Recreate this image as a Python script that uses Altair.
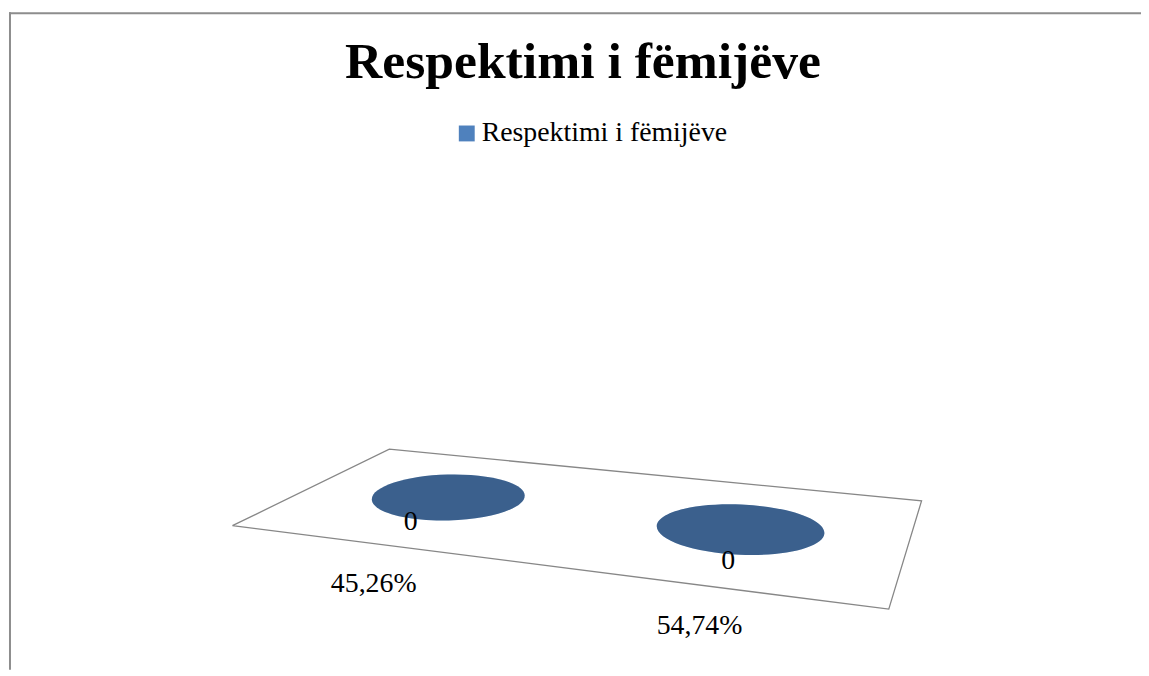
import altair as alt
import pandas as pd
import numpy as np

# ---------------- data ----------------
TITLE = "Respektimi i fëmijëve"
SERIES = "Respektimi i fëmijëve"
CATEGORIES = ["45,26%", "54,74%"]
VALUES = [0, 0]

# ---------------- style / projection ----------------
W, H = 1141, 664
FONT = "Liberation Serif"
BLUE = "#4f81bd"
# floor quad corners (front-left, front-right, back-right, back-left) in view pixels
FLOOR_QUAD = [(226, 519), (887, 603), (920, 494), (384, 442)]
ELL_W = [154, 169]            # projected ellipse widths (px)
ELL_ANGLE = [358.5, 2.5]      # slight tilt of the projected bases
ELL_SHAPE = ("M-1,0 C-1,-0.166 -0.552,-0.3 0,-0.3 C0.552,-0.3 1,-0.166 1,0 "
             "C1,0.166 0.552,0.3 0,0.3 C-0.552,0.3 -1,0.166 -1,0 Z")


def homography(quad):
    (x0, y0), (x1, y1), (x2, y2), (x3, y3) = quad
    dx1, dx2, dx3 = x1 - x2, x3 - x2, x0 - x1 + x2 - x3
    dy1, dy2, dy3 = y1 - y2, y3 - y2, y0 - y1 + y2 - y3
    den = dx1 * dy2 - dx2 * dy1
    g = (dx3 * dy2 - dx2 * dy3) / den
    h = (dx1 * dy3 - dx3 * dy1) / den
    a11, a21, a31 = x1 - x0 + g * x1, x3 - x0 + h * x3, x0
    a12, a22, a32 = y1 - y0 + g * y1, y3 - y0 + h * y3, y0

    def proj(u, v):
        d = g * u + h * v + 1
        return (a11 * u + a21 * v + a31) / d, (a12 * u + a22 * v + a32) / d
    return proj


proj = homography(FLOOR_QUAD)

n = len(CATEGORIES)
rows = []
for i, (c, val) in enumerate(zip(CATEGORIES, VALUES)):
    u = (i + 0.5) / n
    ex, ey = proj(u, 0.5)              # base centre on the floor
    lx, ly = proj(u + 0.022, 0.15)     # value label
    fx, fy = proj(u, 0.0)              # front edge point for category label
    rows.append(dict(category=c, value=val, series=SERIES,
                     ex=ex, ey=ey, lx=lx, ly=ly, fx=fx, fy=fy,
                     esize=ELL_W[i] ** 2, eang=ELL_ANGLE[i]))
df = pd.DataFrame(rows)

corners = [(0, 0), (1, 0), (1, 1), (0, 1), (0, 0)]
floor_df = pd.DataFrame([dict(k=k, px=proj(u, v)[0], py=proj(u, v)[1])
                         for k, (u, v) in enumerate(corners)])

def X(f):
    return alt.X(f"{f}:Q", scale=None, axis=None)

def Y(f):
    return alt.Y(f"{f}:Q", scale=None, axis=None)

floor = alt.Chart(floor_df).mark_line(stroke="#878787", strokeWidth=1.3).encode(
    x=X("px"), y=Y("py"), order="k:Q")

ellipse = alt.Chart(df).mark_point(shape=ELL_SHAPE, filled=True, opacity=1, strokeWidth=0).encode(
    x=X("ex"), y=Y("ey"),
    size=alt.Size("esize:Q", scale=None),
    angle=alt.Angle("eang:Q", scale=None),
    color=alt.Color("series:N", scale=alt.Scale(domain=[SERIES], range=[BLUE]),
                    legend=alt.Legend(title=None, orient="none", legendX=448, legendY=110,
                                      symbolType="square", symbolSize=256, symbolStrokeWidth=0,
                                      labelFont=FONT, labelFontSize=28, labelColor="black",
                                      labelLimit=1000, labelOffset=1, padding=0)))

shade = alt.Chart(df).mark_point(shape=ELL_SHAPE, filled=True, color="black",
                                 opacity=0.25, strokeWidth=0).encode(
    x=X("ex"), y=Y("ey"),
    size=alt.Size("esize:Q", scale=None),
    angle=alt.Angle("eang:Q", scale=None))

vlabels = alt.Chart(df).mark_text(font=FONT, fontSize=28, baseline="alphabetic",
                                  align="center", color="black").encode(
    x=X("lx"), y=Y("ly"), text=alt.Text("value:Q", format="d"))

clabels = alt.Chart(df).mark_text(font=FONT, fontSize=28, baseline="alphabetic",
                                  align="center", color="black", dy=49).encode(
    x=X("fx"), y=Y("fy"), text="category:N")

title = alt.Chart(pd.DataFrame({"t": [TITLE]})).mark_text(
    font=FONT, fontSize=52, fontWeight="bold", baseline="alphabetic",
    align="center", color="black").encode(
    x=alt.value(579), y=alt.value(68), text="t:N")

dummy = pd.DataFrame({"k": [0]})
border_left = alt.Chart(dummy).mark_rule(color="#8d8d8d", strokeWidth=2).encode(
    x=alt.value(2), y=alt.value(2), y2=alt.value(H))
border_top = alt.Chart(dummy).mark_rule(color="#8d8d8d", strokeWidth=2).encode(
    y=alt.value(3), x=alt.value(1), x2=alt.value(W))

chart = alt.layer(border_left, border_top, floor, ellipse, shade, vlabels, clabels, title).properties(
    width=W, height=H, autosize="none", padding=0, background="white"
).configure_view(strokeWidth=0)

chart.save("out.html", embed_options={"renderer": "svg", "actions": False})
